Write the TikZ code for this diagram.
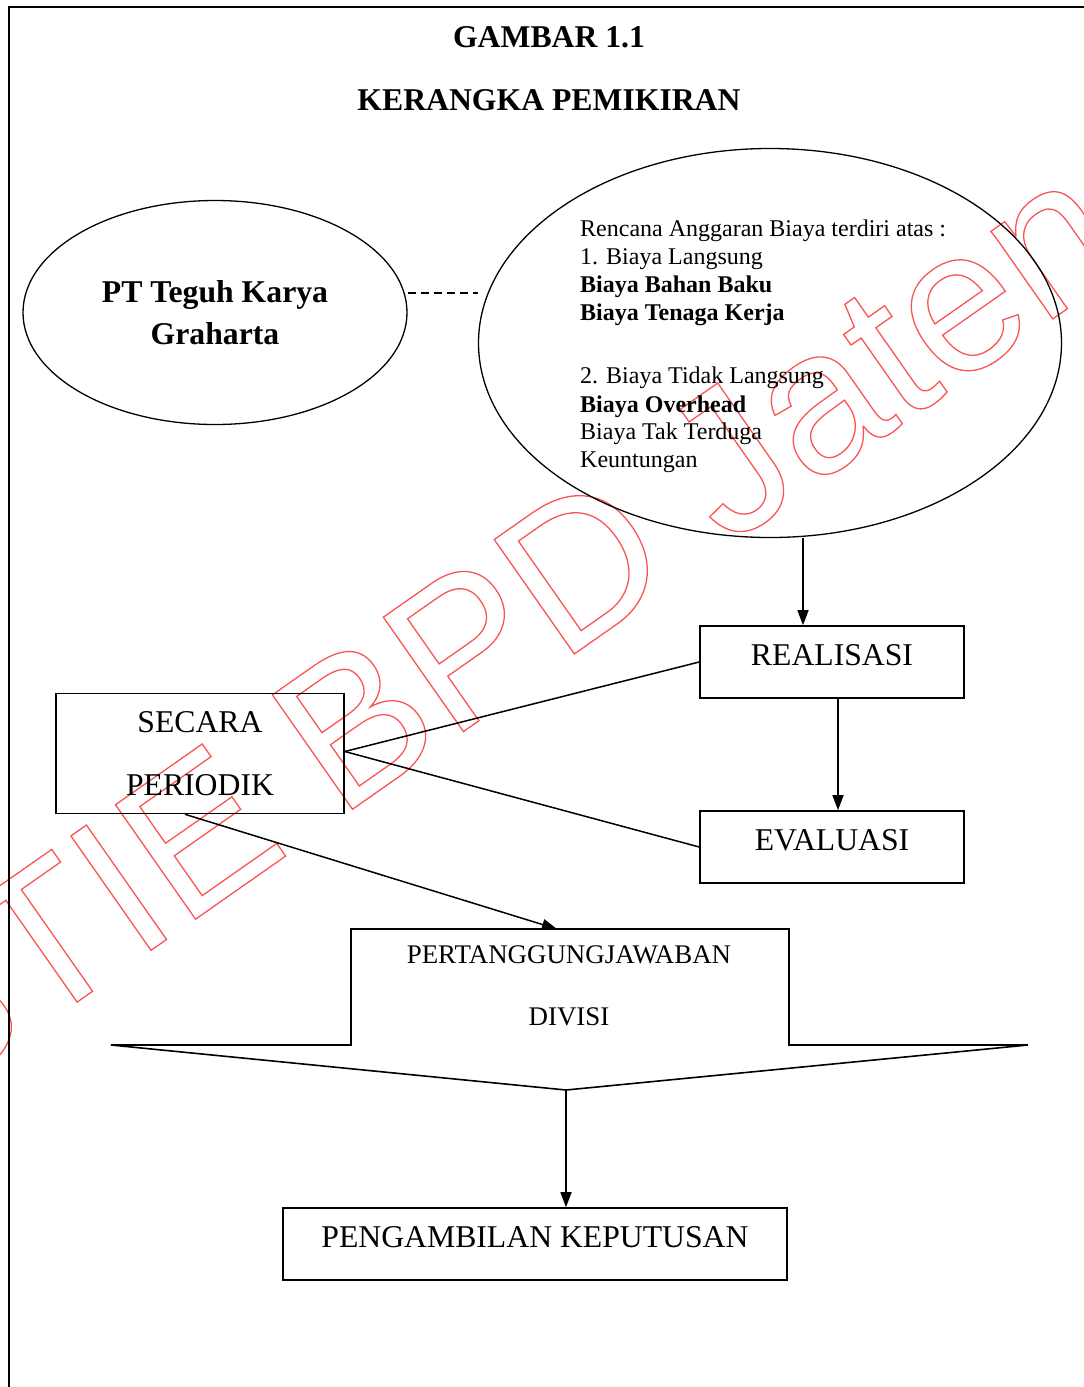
\documentclass[tikz,border=0pt]{standalone}
\usepackage{fontspec}
\setmainfont{Liberation Serif}
\newfontfamily\wmfont{Liberation Sans}
\usepackage{tikz}
\usetikzlibrary{arrows.meta,shapes}
\definecolor{wmred}{RGB}{250,85,85}
\tikzstyle{elips}=[draw,ellipse,line width=1.3pt,inner sep=0pt]
\tikzstyle{kotak}=[draw,rectangle,line width=1.6pt,inner sep=0pt,minimum width=264pt,minimum height=72pt,font=\fontsize{31.7}{38}\selectfont]
\tikzstyle{satu}=[text height=21pt,text depth=14pt]
\tikzstyle{judul}=[anchor=base,inner sep=0pt,font=\fontsize{31.7}{38}\selectfont\bfseries]
\tikzstyle{isi}=[anchor=base west,inner sep=0pt,font=\fontsize{24}{28}\selectfont]
\tikzstyle{garis}=[draw,line width=1.5pt]
\tikzstyle{panah}=[draw,line width=1.5pt,-{Triangle[length=15pt,width=11pt]}]

\begin{document}
\begin{tikzpicture}[x=1pt,y=-1pt]
    \useasboundingbox (0,0) rectangle (1084,1387);
    % watermark behind everything
    \node[anchor=base west,rotate=35,inner sep=0pt,text=wmred,
          font=\wmfont\fontsize{203}{203}\selectfont] (tanda) at (-77,1110)
        {\special{pdf:literal direct 1 Tr 1.3 w}STIE BPD Jateng\special{pdf:literal direct 0 Tr}};
    % page frame
    \draw[line width=1.6pt] (9,1387) -- (9,7) -- (1084,7);
    % titles
    \node[judul] (judul1) at (549,47.5) {GAMBAR 1.1};
    \node[judul] (judul2) at (549,110.5) {KERANGKA PEMIKIRAN};
    % the two ellipses
    \node[elips,minimum width=384pt,minimum height=224pt,align=center,
          font=\fontsize{31.7}{42}\selectfont\bfseries] (pt) at (215,312.5)
        {PT Teguh Karya\\Graharta};
    \node[elips,minimum width=583pt,minimum height=389pt] (rab) at (770,343) {};
    \foreach \y/\txt [count=\i] in {236/{Rencana Anggaran Biaya terdiri atas :},
        264/{1. Biaya Langsung}, 292/{\textbf{Biaya Bahan Baku}},
        320/{\textbf{Biaya Tenaga Kerja}}, 383/{2. Biaya Tidak Langsung},
        412/{\textbf{Biaya Overhead}}, 439/{Biaya Tak Terduga}, 467/{Keuntungan}}
        \node[isi] (rab\i) at (580,\y) {\txt};
    \draw[line width=1.2pt,dash pattern=on 8pt off 5pt]
        ([yshift=19.5pt]pt.east) -- ([yshift=19.5pt]pt.east -| rab.west);
    % boxes
    \node[kotak,satu] (real) at (832,662) {REALISASI};
    \node[kotak,satu] (eval) at (832,847) {EVALUASI};
    \node[kotak,minimum width=288pt,minimum height=120pt,align=center,
          font=\fontsize{31.7}{63}\selectfont] (periodik) at (200,753.5) {SECARA\\PERIODIK};
    \node[kotak,satu,minimum width=504pt] (putusan) at (535,1244) {PENGAMBILAN KEPUTUSAN};
    % big arrow shape
    \coordinate (p1) at (351,929);
    \coordinate (p2) at (789,929);
    \coordinate (p3) at (789,1045);
    \coordinate (p4) at (1028,1045);
    \coordinate (ujung) at (566,1090);
    \coordinate (p6) at (111,1045);
    \coordinate (p7) at (351,1045);
    \coordinate (masuk) at (557,929);
    \draw[line width=1.6pt] (p1) -- (p2) -- (p3) -- (p4) -- (ujung) -- (p6) -- (p7) -- cycle;
    \node[align=center,inner sep=0pt,font=\fontsize{26.9}{62}\selectfont] (tgjwb) at (569,986)
        {PERTANGGUNGJAWABAN\\DIVISI};
    % connectors
    \path[panah] ([xshift=33pt]rab.south) -- ([xshift=33pt]rab.south |- real.north);
    \path[panah] ([xshift=6pt]real.south) -- ([xshift=6pt]eval.north);
    \path[garis] ([yshift=2pt]periodik.east) -- (real.west);
    \path[garis] ([yshift=2pt]periodik.east) -- (eval.west);
    \path[panah] ([xshift=-15pt]periodik.south) -- (masuk);
    \path[panah] (ujung) -- (ujung |- putusan.north);
\end{tikzpicture}
\end{document}
